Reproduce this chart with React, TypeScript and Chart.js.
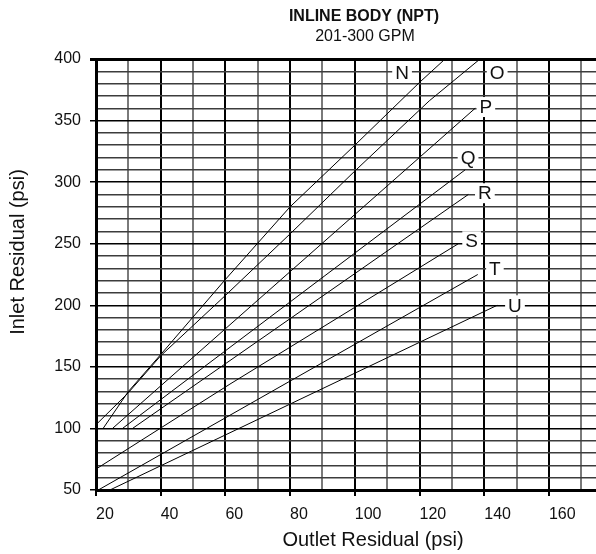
import React, { useEffect, useRef } from "react";
import { Chart, registerables } from "chart.js";

Chart.register(...registerables);

const FONT = "'Liberation Sans', Arial, Helvetica, sans-serif";

const titleText = "INLINE BODY (NPT)";
const subtitleText = "201-300 GPM";
const xAxisTitle = "Outlet Residual (psi)";
const yAxisTitle = "Inlet Residual (psi)";

// Curves: [outlet psi, inlet psi]
const curveN: number[][] = [[22.2, 100], [30, 130], [40, 160], [60, 221], [80, 280], [100, 330], [120, 381], [127.9, 400]];
const curveO: number[][] = [[20, 103], [30, 129], [40, 159], [60, 208], [80, 258], [100, 309], [123, 366], [138.7, 400]];
const curveP: number[][] = [[25.1, 100], [137.2, 360]];
const curveQ: number[][] = [[28.2, 100], [134.1, 310]];
const curveR: number[][] = [[31.3, 100], [135.1, 290]];
const curveS: number[][] = [[20, 67], [61.4, 136], [132, 250]];
const curveT: number[][] = [[20.7, 50], [138, 225]];
const curveU: number[][] = [[24.3, 50], [144, 200]];

const curveNames = ["N", "O", "P", "Q", "R", "S", "T", "U"];
const curves = [curveN, curveO, curveP, curveQ, curveR, curveS, curveT, curveU];
const labelX = [114.6, 144, 140.5, 135, 140.2, 136.1, 143.3, 149.5];
const labelY = [389, 389, 361, 320, 291, 252, 230, 200];

const xMin = 20, xMax = 190, xStep = 10, xLabelEvery = 20;
const yMin = 50, yMax = 400, yStep = 10, yLabelEvery = 50;

const textPlugin = {
  id: "textPlugin",
  afterDatasetsDraw(chart: any) {
    const { ctx, scales } = chart;
    const xs = scales.x, ys = scales.y;
    ctx.save();
    ctx.font = `19px ${FONT}`;
    ctx.textAlign = "center";
    ctx.textBaseline = "middle";
    curveNames.forEach((name, i) => {
      const px = xs.getPixelForValue(labelX[i]);
      const py = ys.getPixelForValue(labelY[i]);
      const w = ctx.measureText(name).width;
      ctx.fillStyle = "#fff";
      ctx.fillRect(px - w / 2 - 3, py - 10, w + 6, 20);
      ctx.fillStyle = "#111";
      ctx.fillText(name, px, py + 1);
    });
    ctx.restore();
  },
  afterDraw(chart: any) {
    const { ctx } = chart;
    ctx.save();
    ctx.fillStyle = "#111";
    ctx.textAlign = "center";
    ctx.textBaseline = "middle";
    ctx.font = `bold 16px ${FONT}`;
    ctx.fillText(titleText, 364, 17);
    ctx.font = `16px ${FONT}`;
    ctx.fillText(subtitleText, 365, 37);
    ctx.font = `20px ${FONT}`;
    ctx.fillText(xAxisTitle, 373, 540);
    ctx.translate(18, 252);
    ctx.rotate(-Math.PI / 2);
    ctx.fillText(yAxisTitle, 0, 0);
    ctx.restore();
  },
};

export default function App() {
  const ref = useRef<HTMLCanvasElement | null>(null);
  useEffect(() => {
    if (!ref.current) return;
    const chart = new Chart(ref.current, {
      type: "line",
      data: {
        datasets: curves.map((c, i) => ({
          label: curveNames[i],
          data: c.map(([x, y]) => ({ x, y })),
          borderColor: "#000",
          borderWidth: 1,
          pointRadius: 0,
          tension: 0,
          fill: false,
        })),
      },
      options: {
        animation: false,
        responsive: true,
        maintainAspectRatio: false,
        layout: { padding: { top: 59, right: 14, left: 0, bottom: 0 } },
        plugins: {
          legend: { display: false },
          tooltip: { enabled: false },
          title: { display: false },
        },
        scales: {
          x: {
            type: "linear",
            min: xMin,
            max: xMax,
            afterFit: (s: any) => { s.height = 64; },
            ticks: {
              stepSize: xStep,
              autoSkip: false,
              maxRotation: 0,
              align: "start",
              padding: 9,
              color: "#111",
              font: { family: FONT, size: 16 },
              callback: (v: any) => (Number(v) % xLabelEvery === 0 ? String(v) : ""),
            },
            grid: {
              color: (c: any) => (c.tick && c.tick.value % xLabelEvery === 0 ? "#000" : "#7a7a7a"),
              lineWidth: 2,
              tickLength: 6,
              tickColor: (c: any) => (c.tick && c.tick.value % xLabelEvery === 0 ? "#000" : "rgba(0,0,0,0)"),
            },
            border: { color: "#000", width: 3 },
          },
          y: {
            type: "linear",
            min: yMin,
            max: yMax,
            afterFit: (s: any) => { s.width = 96; },
            ticks: {
              stepSize: yStep,
              autoSkip: false,
              padding: 9,
              color: "#111",
              font: { family: FONT, size: 16 },
              callback: (v: any) => (Number(v) % yLabelEvery === 0 ? String(v) : ""),
            },
            grid: {
              color: (c: any) => (c.tick && c.tick.value % yLabelEvery === 0 ? "#000" : "#3c3c3c"),
              lineWidth: (c: any) => (c.tick && c.tick.value === yMax ? 3 : 1.5),
              tickLength: 6,
              tickColor: (c: any) => (c.tick && c.tick.value % yLabelEvery === 0 ? "#000" : "rgba(0,0,0,0)"),
            },
            border: { color: "#000", width: 3 },
          },
        },
      },
      plugins: [textPlugin],
    });
    return () => chart.destroy();
  }, []);

  return (
    <div style={{ position: "fixed", left: 0, top: 0, width: 596, height: 554, overflow: "hidden", background: "#fff" }}>
      <div style={{ position: "relative", width: 660, height: 554 }}>
        <canvas ref={ref} />
      </div>
    </div>
  );
}
